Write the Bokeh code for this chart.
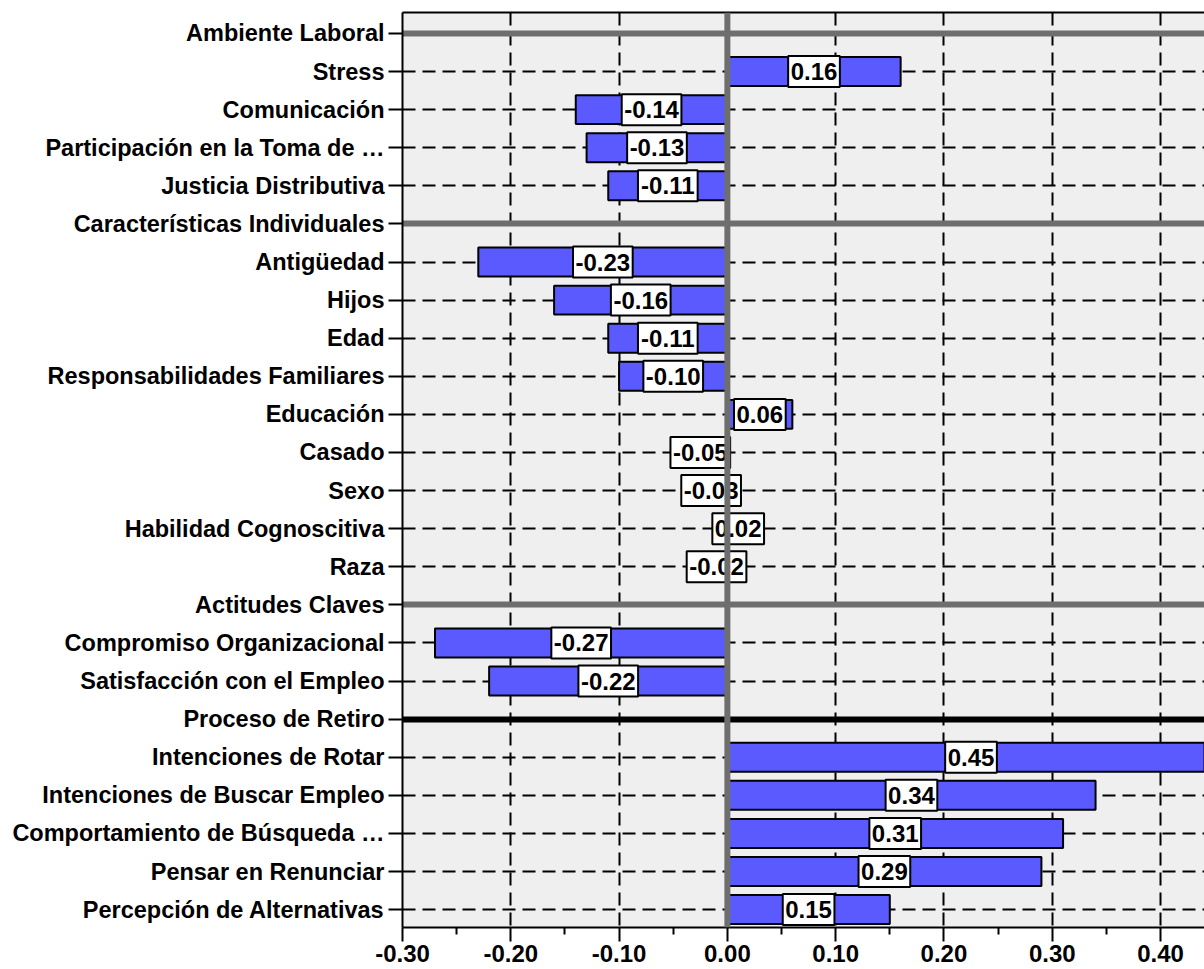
from bokeh.plotting import figure
from bokeh.models import (ColumnDataSource, Span, FixedTicker,
                          LinearAxis, Range1d, NumeralTickFormatter)
from bokeh.core.properties import value
from bokeh.embed import file_html
from bokeh.resources import INLINE

# Row labels, top to bottom; group headings carry no value (None)
labels = [
    "Ambiente Laboral",
    "Stress",
    "Comunicación",
    "Participación en la Toma de …",
    "Justicia Distributiva",
    "Características Individuales",
    "Antigüedad",
    "Hijos",
    "Edad",
    "Responsabilidades Familiares",
    "Educación",
    "Casado",
    "Sexo",
    "Habilidad Cognoscitiva",
    "Raza",
    "Actitudes Claves",
    "Compromiso Organizacional",
    "Satisfacción con el Empleo",
    "Proceso de Retiro",
    "Intenciones de Rotar",
    "Intenciones de Buscar Empleo",
    "Comportamiento de Búsqueda …",
    "Pensar en Renunciar",
    "Percepción de Alternativas",
]
correlations = [
    None, 0.16, -0.14, -0.13, -0.11,
    None, -0.23, -0.16, -0.11, -0.10, 0.06, -0.05, -0.03, 0.02, -0.02,
    None, -0.27, -0.22,
    None, 0.45, 0.34, 0.31, 0.29, 0.15,
]
# Separator colour for each group heading
heading_colors = {
    "Ambiente Laboral": "#6e6e6e",
    "Características Individuales": "#6e6e6e",
    "Actitudes Claves": "#6e6e6e",
    "Proceso de Retiro": "#000000",
}
x_ticks = [-0.30, -0.20, -0.10, 0.00, 0.10, 0.20, 0.30, 0.40]
x_minor = [-0.25, -0.15, -0.05, 0.05, 0.15, 0.25, 0.35, 0.45]

FONT_NAME = "Liberation Sans"
FONT = value(FONT_NAME)
LABEL_PX = 24

# approximate advance widths (em) of bold sans glyphs used in the value tags
GLYPH_EM = {"-": 0.333, ".": 0.278}


def tag_width(s):
    return sum(GLYPH_EM.get(c, 0.556) for c in s) * LABEL_PX + 5


rows = list(range(len(labels)))
bar_rows = [i for i in rows if correlations[i] is not None]
bar_vals = [correlations[i] for i in bar_rows]
bar_txt = [f"{v:.2f}" for v in bar_vals]
bars = ColumnDataSource(dict(
    y=bar_rows,
    left=[min(v, 0) for v in bar_vals],
    right=[max(v, 0) for v in bar_vals],
    mid=[v / 2 for v in bar_vals],
    txt=bar_txt,
    tw=[tag_width(t) for t in bar_txt],
))
head_rows = [i for i in rows if correlations[i] is None]
heads = ColumnDataSource(dict(
    y=head_rows,
    color=[heading_colors[labels[i]] for i in head_rows],
))

p = figure(width=1204, height=969, output_backend="svg", toolbar_location=None,
           x_range=Range1d(-0.30, 0.4406),
           y_range=Range1d(len(labels) - 0.53, -0.55),
           min_border_left=402, min_border_right=0,
           min_border_top=12, min_border_bottom=42)
p.background_fill_color = "#efefef"
p.border_fill_color = "white"
p.outline_line_color = None

# dashed grid
p.xgrid.ticker = FixedTicker(ticks=x_ticks)
p.ygrid.ticker = FixedTicker(ticks=rows)
for g in (p.xgrid, p.ygrid):
    g.grid_line_color = "black"
    g.grid_line_width = 2
    g.grid_line_dash = "13 7"

# group separators
p.hspan(y="y", line_color="color", line_width=6, source=heads)

# correlation bars
p.hbar(y="y", left="left", right="right", height=0.76, source=bars,
       fill_color="#5a5aff", line_color="black", line_width=2)

# value tags: white boxes centred on each bar, with the value inside
p.rect(x="mid", y="y", width="tw", height=31, width_units="screen",
       height_units="screen", source=bars,
       fill_color="white", line_color="black", line_width=2)
p.text(x="mid", y="y", text="txt", source=bars,
       text_align="center", text_baseline="middle",
       text_font=FONT, text_font_size=f"{LABEL_PX}px",
       text_font_style="bold", text_color="black")

# zero reference line
p.add_layout(Span(location=0, dimension="height",
                  line_color="#6e6e6e", line_width=6))

# x axis
xa = p.xaxis[0]
xa.ticker = FixedTicker(ticks=x_ticks, minor_ticks=x_minor)
xa.formatter = NumeralTickFormatter(format="0.00")
xa.axis_line_width = 2
xa.major_tick_line_width = 2
xa.minor_tick_line_width = 2
xa.major_tick_in = 0
xa.major_tick_out = 14
xa.minor_tick_in = 0
xa.minor_tick_out = 7
xa.major_label_text_font = FONT_NAME
xa.major_label_text_font_size = "24px"
xa.major_label_text_font_style = "bold"
xa.major_label_text_color = "black"
xa.major_label_standoff = 3

# y axis with category names
ya = p.yaxis[0]
ya.ticker = FixedTicker(ticks=rows)
ya.major_label_overrides = {i: lab for i, lab in enumerate(labels)}
ya.axis_line_width = 2
ya.major_tick_line_width = 2
ya.major_tick_in = 0
ya.major_tick_out = 14
ya.minor_tick_line_color = None
ya.major_label_text_font = FONT_NAME
ya.major_label_text_font_size = "23.5px"
ya.major_label_text_font_style = "bold"
ya.major_label_text_color = "black"
ya.major_label_standoff = 4

# top frame edge
top = LinearAxis(axis_line_width=2, major_tick_line_color=None,
                 minor_tick_line_color=None, major_label_text_font_size="0px",
                 ticker=FixedTicker(ticks=[]))
p.add_layout(top, "above")

open("out.html", "w").write(file_html(p, INLINE))
